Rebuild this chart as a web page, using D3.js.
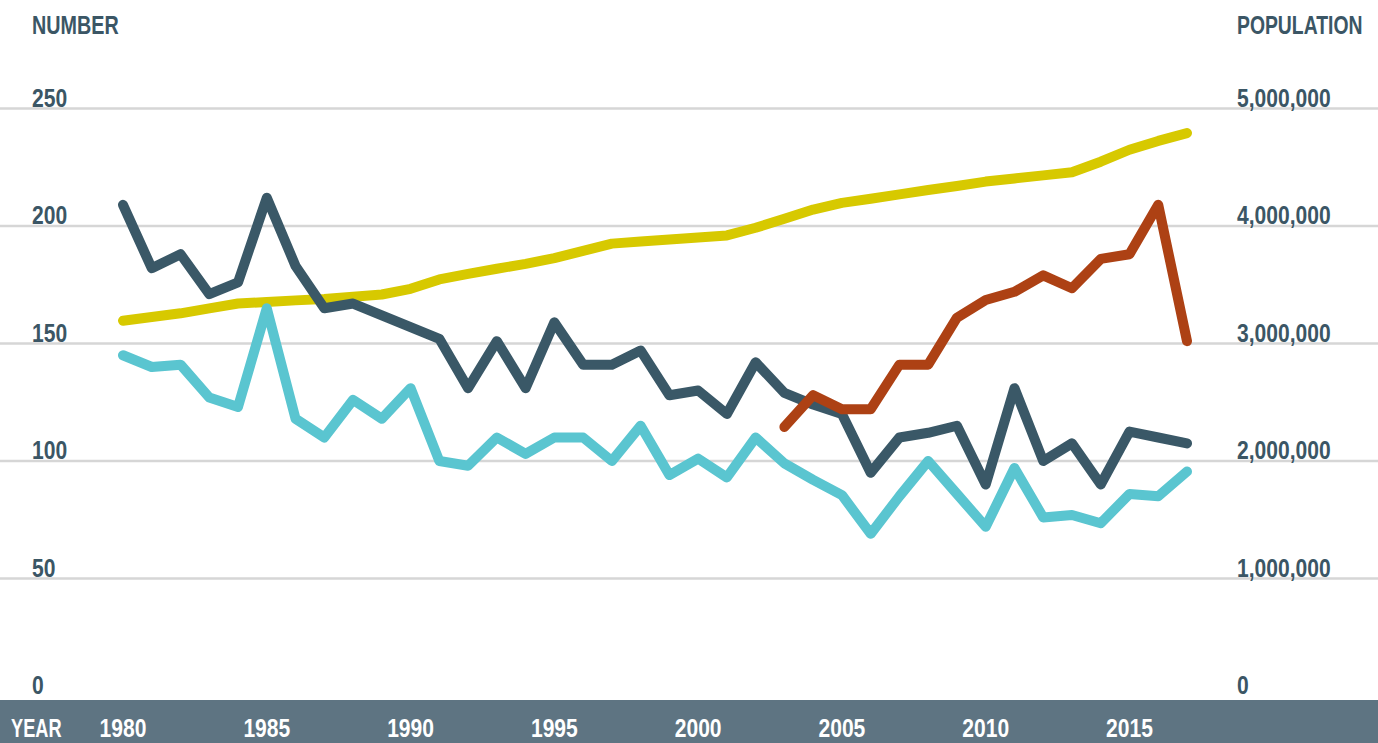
<!DOCTYPE html>
<html>
<head>
<meta charset="utf-8">
<script src="https://cdn.jsdelivr.net/npm/d3@7"></script>
<style>
  html, body { margin: 0; padding: 0; background: #ffffff; }
  svg { display: block; }
  text { font-family: "Liberation Sans", Arial, sans-serif; font-weight: 700; }
</style>
</head>
<body>
<svg id="chart" width="1378" height="743"></svg>
<script>
// ---- data ----
const years = [1980,1981,1982,1983,1984,1985,1986,1987,1988,1989,
               1990,1991,1992,1993,1994,1995,1996,1997,1998,1999,
               2000,2001,2002,2003,2004,2005,2006,2007,2008,2009,
               2010,2011,2012,2013,2014,2015,2016,2017];

// dark series (left axis)
const totalValues = [209,182,188,171,176,212,183,165,167,162,
                     157,152,131,151,131,159,141,141,147,128,
                     130,120,142,129,124,120,95,110,112,115,
                     90,131,100,107.5,90,112.5,110,107.5];

// light blue series (left axis)
const secondValues = [145,140,141,127,123,165,118,110,126,118,
                      131,100,98,110,103,110,110,100,115,94,
                      101,93,110,99,92,85.5,69,85,100,86,
                      72,97,76,77,73.5,86,85,95.5];

// orange series (left axis), 2003 onward
const orangeYears = [2003,2004,2005,2006,2007,2008,2009,2010,2011,2012,2013,2014,2015,2016,2017];
const orangeValues = [114.5,128,122,122,141,141,161,168.5,172,179,173.5,186,188,209,151];

// population (right axis)
const population = [3194000,3226000,3257000,3299000,3340000,3354000,3367000,3379000,3398000,3417000,
                    3465000,3545000,3592000,3636000,3678000,3727000,3789000,3850000,3869000,3886000,
                    3903000,3920000,3985000,4062000,4140000,4197000,4232000,4269000,4306000,4341000,
                    4378000,4405000,4431000,4458000,4547000,4649000,4724000,4791000];

const leftTicks = [0,50,100,150,200,250];
const rightTicks = [0,1000000,2000000,3000000,4000000,5000000];
const yearTicks = [1980,1985,1990,1995,2000,2005,2010,2015];

// ---- chart ----
const W = 1378, H = 743;
const svg = d3.select("#chart");

const x = d3.scaleLinear().domain([1980, 2017]).range([123, 1187]);
const yL = d3.scaleLinear().domain([0, 250]).range([696, 108.5]);
const yR = d3.scaleLinear().domain([0, 5000000]).range([696, 108.5]);

const textColor = "#3b5665";

// condensed text helper: horizontally squeezed bold text
function label(parent, tx, ty, str, opts) {
  const o = Object.assign({size: 26, sx: 0.81, fill: textColor, anchor: "start"}, opts || {});
  parent.append("g")
    .attr("transform", `translate(${tx},${ty}) scale(${o.sx},1)`)
    .append("text")
    .attr("x", 0).attr("y", 0)
    .attr("text-anchor", o.anchor)
    .attr("font-size", o.size)
    .attr("fill", o.fill)
    .text(str);
}

// gridlines
svg.append("g").selectAll("line")
  .data(leftTicks.filter(d => d > 0))
  .join("line")
  .attr("x1", 0).attr("x2", W)
  .attr("y1", d => yL(d)).attr("y2", d => yL(d))
  .attr("stroke", "#d6d6d6").attr("stroke-width", 2.5);

// axis titles
label(svg, 32, 34, "NUMBER", {sx: 0.76});
label(svg, 1237, 34, "POPULATION", {sx: 0.745});

// left tick labels
const gl = svg.append("g");
leftTicks.forEach(d => label(gl, 32, yL(d) - 2, String(d)));

// right tick labels
const fmt = d3.format(",");
const gr = svg.append("g");
rightTicks.forEach(d => label(gr, 1237, yR(d) - 2, fmt(d)));

// lines
const lineL = d3.line().x(d => x(d[0])).y(d => yL(d[1]));
const lineR = d3.line().x(d => x(d[0])).y(d => yR(d[1]));

function drawLine(gen, data, color) {
  svg.append("path")
    .datum(data)
    .attr("d", gen)
    .attr("fill", "none")
    .attr("stroke", color)
    .attr("stroke-width", 10)
    .attr("stroke-linecap", "round")
    .attr("stroke-linejoin", "round");
}

drawLine(lineR, years.map((y, i) => [y, population[i]]), "#d7c900");
drawLine(lineL, years.map((y, i) => [y, totalValues[i]]), "#3a5867");
drawLine(lineL, years.map((y, i) => [y, secondValues[i]]), "#5ac5d0");
drawLine(lineL, orangeYears.map((y, i) => [y, orangeValues[i]]), "#ad4114");

// bottom band with year labels
svg.append("rect").attr("x", 0).attr("y", 700).attr("width", W).attr("height", H - 700)
  .attr("fill", "#5e7482");
label(svg, 11, 737, "YEAR", {fill: "#ffffff", sx: 0.7});
const gy = svg.append("g");
yearTicks.forEach(d => label(gy, x(d), 737, String(d), {fill: "#ffffff", anchor: "middle"}));
</script>
</body>
</html>
